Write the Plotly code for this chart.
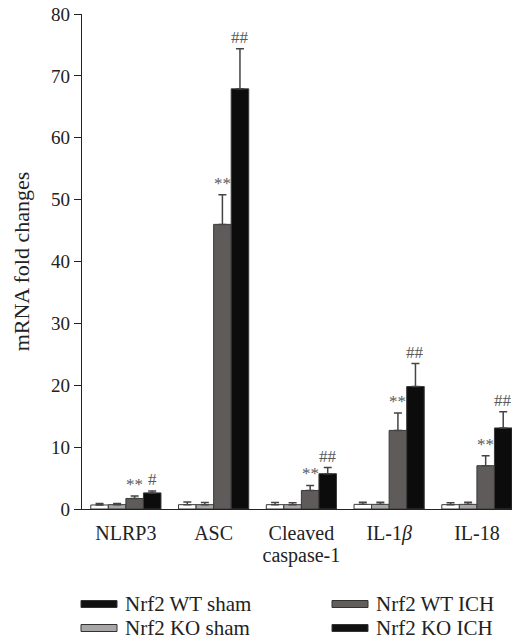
import plotly.graph_objects as go

categories = ["NLRP3", "ASC", "Cleaved<br>caspase-1", "IL-1<i>β</i>", "IL-18"]
series_names = ["Nrf2 WT sham", "Nrf2 KO sham", "Nrf2 WT ICH", "Nrf2 KO ICH"]
wt_sham = [0.65, 0.7, 0.7, 0.75, 0.7]
wt_sham_err = [0.25, 0.45, 0.35, 0.35, 0.3]
ko_sham = [0.7, 0.7, 0.7, 0.75, 0.75]
ko_sham_err = [0.2, 0.35, 0.3, 0.35, 0.35]
wt_ich = [1.7, 46.0, 3.0, 12.7, 7.0]
wt_ich_err = [0.4, 4.8, 0.8, 2.8, 1.6]
ko_ich = [2.6, 67.9, 5.7, 19.8, 13.1]
ko_ich_err = [0.3, 6.5, 1.0, 3.7, 2.6]
wt_ich_marks = ["**", "**", "**", "**", "**"]
ko_ich_marks = ["#", "##", "##", "##", "##"]
y_ticks = [0, 10, 20, 30, 40, 50, 60, 70, 80]

bar_fill = ["#ffffff", "#a9a6a7", "#5f5b5b", "#0c0c0c"]
legend_fill = ["#111111", "#a9a6a7", "#625e5e", "#111111"]

FONT = "Liberation Serif"
W, H = 513, 644
ML, MR, MT, MB = 82, 1, 14, 135
PW = W - ML - MR
PH = H - MT - MB

values = [wt_sham, ko_sham, wt_ich, ko_ich]
errs = [wt_sham_err, ko_sham_err, wt_ich_err, ko_ich_err]
xs = list(range(len(categories)))

# labels drawn at 20px, line spacing from a smaller base font (tighter lines)
tick_text = ['<span style="font-size:20px">' + c.replace("<br>", '</span><br><span style="font-size:20px">') + "</span>"
             for c in categories]

fig = go.Figure()
for i in range(4):
    fig.add_trace(go.Bar(
        x=xs, y=values[i], name=series_names[i], showlegend=False,
        marker=dict(color=bar_fill[i], line=dict(color="#3a3a3a", width=1)),
        error_y=dict(type="data", array=errs[i], symmetric=False, arrayminus=[0] * 5,
                     color="#444444", thickness=1.5, width=4),
    ))

ann = []
n = 4
gw = 0.8
bw = gw / n
for k, x in enumerate(xs):
    for idx, marks in ((2, wt_ich_marks), (3, ko_ich_marks)):
        off = -gw / 2 + bw * (idx + 0.5)
        ann.append(dict(x=x + off, y=values[idx][k] + errs[idx][k], xref="x", yref="y",
                        text=marks[k], showarrow=False, yanchor="bottom", yshift=0,
                        font=dict(family=FONT, size=17, color="#5a5a5a")))

def px_x(p):
    return (p - ML) / PW

def px_y(p):
    return (H - MB - p) / PH

shapes = []
leg_pos = [(81, 604, 0), (81, 628, 1), (332, 604, 2), (332, 628, 3)]
for (x0, yc, idx) in leg_pos:
    shapes.append(dict(type="rect", xref="paper", yref="paper",
                       x0=px_x(x0), x1=px_x(x0 + 36), y0=px_y(yc + 3.5), y1=px_y(yc - 3.5),
                       fillcolor=legend_fill[idx], line=dict(color="#333333", width=1)))
    ann.append(dict(x=px_x(x0 + 42), y=px_y(yc), xref="paper", yref="paper",
                    text=series_names[idx], showarrow=False, xanchor="left", yanchor="middle",
                    font=dict(family=FONT, size=21, color="#222222")))

fig.update_layout(
    width=W, height=H,
    margin=dict(l=ML, r=MR, t=MT, b=MB, pad=0),
    paper_bgcolor="white", plot_bgcolor="white",
    barmode="group", bargap=0.2, bargroupgap=0,
    font=dict(family=FONT, size=20, color="#222222"),
    annotations=ann, shapes=shapes,
    xaxis=dict(range=[-0.5, 4.4], tickmode="array", tickvals=xs, ticktext=tick_text,
               showline=True, linecolor="#222222", linewidth=1.2, ticks="",
               showgrid=False, zeroline=False, tickfont=dict(family=FONT, size=17),
               ticklabelstandoff=9),
    yaxis=dict(range=[0, 80], tickmode="array", tickvals=y_ticks,
               showline=True, linecolor="#222222", linewidth=1.2, ticks="outside",
               ticklen=7, tickcolor="#222222", showgrid=False, zeroline=False,
               tickfont=dict(family=FONT, size=19),
               title=dict(text="mRNA fold changes", font=dict(family=FONT, size=22), standoff=15)),
)

fig.write_html("out.html")
